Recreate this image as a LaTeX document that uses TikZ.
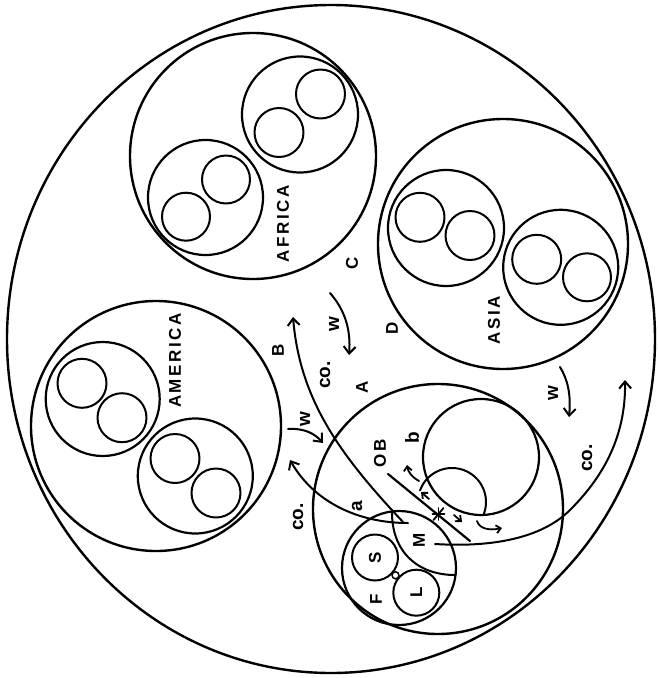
\documentclass[tikz,border=0pt]{standalone}
\usepackage{fontspec}
\setmainfont{Liberation Sans}
\newfontfamily\capfont[LetterSpace=15]{Liberation Sans}
\usetikzlibrary{arrows.meta}
\tikzset{
  bigc/.style={line width=2.4pt},
  midc/.style={line width=2.2pt},
  smc/.style={line width=2.0pt},
  caplab/.style={font=\capfont\bfseries\fontsize{17}{17}\selectfont, rotate=90, inner sep=0pt},
  lowlab/.style={font=\bfseries\fontsize{19}{19}\selectfont, rotate=90, inner sep=0pt},
  flow/.style={line width=2pt, -{Straight Barb[length=7pt,width=12pt,line width=2pt]}},
  tiny/.style={line width=1.8pt, -{Straight Barb[length=4.5pt,width=8pt,line width=1.8pt]}},
}
\begin{document}
\begin{tikzpicture}[x=1pt,y=-1pt,line cap=round,line join=round]
\useasboundingbox (0,0) rectangle (658,678);
% outer world
\draw[bigc] (331,339) ellipse [x radius=324pt, y radius=334pt];
% AFRICA
\draw[bigc] (253,156) circle [radius=123pt];
\draw[midc] (300,114.5) circle [radius=58pt];
\draw[smc] (320.5,94) circle [radius=24.5pt];
\draw[smc] (279,132.5) circle [radius=24.5pt];
\draw[midc] (205.5,197.5) circle [radius=57.5pt];
\draw[smc] (226,179.5) circle [radius=24pt];
\draw[smc] (186,216.7) circle [radius=24pt];
\node[caplab] (africa) at (283,224) {AFRICA};
% AMERICA
\draw[bigc] (156,426) circle [radius=125pt];
\draw[midc] (102.7,399) circle [radius=57pt];
\draw[smc] (82,383.3) circle [radius=24.5pt];
\draw[smc] (122,417.7) circle [radius=24.5pt];
\draw[midc] (195.3,476) circle [radius=57.5pt];
\draw[smc] (175,458.5) circle [radius=24.5pt];
\draw[smc] (216,493) circle [radius=24.5pt];
\node[caplab] (america) at (175,360.5) {AMERICA};
% ASIA
\draw[bigc] (503,244) circle [radius=125pt];
\draw[midc] (446,228) circle [radius=58pt];
\draw[smc] (420,217.3) circle [radius=24.5pt];
\draw[smc] (470,235.5) circle [radius=24.5pt];
\draw[midc] (560.7,267.3) circle [radius=57.5pt];
\draw[smc] (536.7,259.3) circle [radius=24.5pt];
\draw[smc] (587,277.3) circle [radius=24pt];
\node[caplab] (asia) at (494,320) {ASIA};
% home continent
\draw[bigc] (438,509) circle [radius=125pt];
\draw[midc] (481,457) circle [radius=58pt];
\draw[smc] (420.05,490.37) arc [start angle=160, end angle=-20, radius=34pt];
\draw[midc] (399,568) circle [radius=57pt];
\draw[smc] (375,557.5) circle [radius=23pt];
\draw[smc] (416.3,592.7) circle [radius=23pt];
\draw[line width=1.5pt] (395.5,575.3) circle [radius=3.5pt];
% lens M
\draw[smc] (392,510) .. controls (391,552) and (418,575) .. (455,575);
% OB line and star
\coordinate (ob1) at (388,474);
\coordinate (ob2) at (470,541);
\draw[line width=2.2pt] (ob1) -- (ob2);
\coordinate (star) at (438.5,514);
\draw[line width=1.8pt] ([shift={(-5,6)}]star) -- ([shift={(5,-6)}]star);
\draw[line width=1.8pt] ([shift={(-6,0)}]star) -- ([shift={(6,0)}]star);
\draw[line width=1.8pt] ([shift={(0,-6)}]star) -- ([shift={(0,6)}]star);
\draw[tiny] (429,499) -- (421,492);
\draw[tiny] (454,515) -- (462,522);
% flows
\coordinate (co1s) at (403,522);
\coordinate (co1e) at (293,317);
\draw[flow] (co1s) .. controls (340,455) and (300,400) .. (co1e);
\coordinate (co2s) at (408,523);
\coordinate (co2e) at (290,460);
\draw[flow] (co2s) .. controls (358,523) and (314,502) .. (co2e);
\coordinate (co3s) at (435,544);
\coordinate (co3m) at (570,510);
\coordinate (co3e) at (625,380);
\draw[flow] (co3s) .. controls (500,548) and (545,535) .. (co3m) .. controls (600,480) and (626,440) .. (co3e);
\coordinate (w1s) at (330,293);
\coordinate (w1e) at (349,355);
\draw[flow] (w1s) .. controls (345,310) and (351,330) .. (w1e);
\coordinate (w2s) at (288,429);
\coordinate (w2e) at (323,443);
\draw[flow] (w2s) .. controls (305,428) and (315,434) .. (w2e);
\coordinate (w3s) at (560,367);
\coordinate (w3e) at (569,417);
\draw[flow] (w3s) .. controls (568,380) and (571,395) .. (w3e);
\coordinate (bs) at (419,481);
\coordinate (be) at (407,465);
\draw[tiny] (bs) .. controls (412,477) and (408,472) .. (be);
\coordinate (hs) at (477,521);
\coordinate (he) at (502,528);
\draw[tiny] (hs) .. controls (479,528) and (488,531) .. (he);
% labels
\node[caplab] (lB) at (278,350) {B};
\node[caplab] (lC) at (352,263) {C};
\node[caplab] (lD) at (392,328) {D};
\node[caplab] (lA) at (362,387) {A};
\node[caplab] (lOB) at (380,453) {OB};
\node[caplab] (lM) at (419,540) {M};
\node[caplab] (lS) at (375,557.5) {S};
\node[caplab] (lL) at (416.3,592.7) {L};
\node[caplab] (lF) at (376,599) {F};
\node[lowlab] (lb) at (412,438) {b};
\node[lowlab] (la) at (357,506) {a};
\node[lowlab] (lw1) at (334,324) {w};
\node[lowlab] (lw2) at (305,419) {w};
\node[lowlab] (lw3) at (553,393) {w};
\node[lowlab] (lco1) at (325,375) {co.};
\node[lowlab] (lco2) at (298,517) {co.};
\node[lowlab] (lco3) at (587,458) {co.};
\end{tikzpicture}
\end{document}
